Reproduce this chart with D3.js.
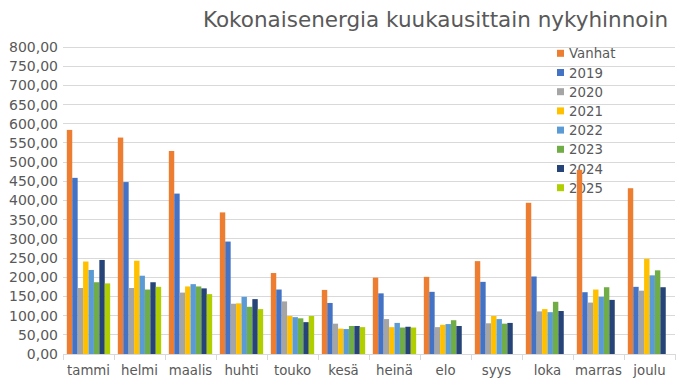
<!DOCTYPE html>
<html><head><meta charset="utf-8">
<script src="https://cdn.jsdelivr.net/npm/d3@7"></script>
<style>
html,body{margin:0;padding:0;background:#fff;}
svg{display:block;font-family:"DejaVu Sans",sans-serif;}
</style></head>
<body>
<svg id="chart" width="683" height="381"></svg>
<script>
const categories = ["tammi","helmi","maalis","huhti","touko","kesä","heinä","elo","syys","loka","marras","joulu"];
const seriesNames = ["Vanhat","2019","2020","2021","2022","2023","2024","2025"];
const vanhat = [584, 564, 529, 369, 211, 167, 199, 201, 242, 394, 480, 432];
const y2019 = [459, 448, 418, 293, 168, 133, 158, 162, 188, 202, 161, 175];
const y2020 = [172, 172, 160, 131, 137, 79, 91, 70, 80, 111, 134, 165];
const y2021 = [241, 243, 176, 132, 99, 66, 70, 76, 99, 117, 168, 248];
const y2022 = [219, 204, 182, 149, 96, 65, 81, 78, 91, 109, 149, 205];
const y2023 = [187, 168, 176, 123, 93, 73, 69, 88, 79, 136, 174, 218];
const y2024 = [245, 187, 171, 143, 83, 73, 71, 73, 81, 112, 141, 174];
const y2025 = [184, 175, 156, 117, 99, 70, 69, null, null, null, null, null];
const yTicks = [0,50,100,150,200,250,300,350,400,450,500,550,600,650,700,750,800];
const colors = ["#ED7D31","#4472C4","#A5A5A5","#FFC000","#5B9BD5","#70AD47","#264478","#B0CE00"];
const title = "Kokonaisenergia kuukausittain nykyhinnoin";

const allSeries = [vanhat,y2019,y2020,y2021,y2022,y2023,y2024,y2025];
const svg = d3.select("#chart");
const textColor = "#595959";
const gridColor = "#d9d9d9";

const x0 = d3.scaleBand().domain(categories).range([63,675]).paddingInner(0.15).paddingOuter(0.075);
const x1 = d3.scaleBand().domain(seriesNames).range([0, x0.bandwidth()]);
const y = d3.scaleLinear().domain([0,800]).range([354,47]);
const fmt = v => d3.format(".2f")(v).replace(".", ",");

// gridlines
svg.append("g").selectAll("line").data(yTicks.filter(t=>t>0)).join("line")
  .attr("x1",63).attr("x2",675).attr("y1",d=>y(d)).attr("y2",d=>y(d))
  .attr("stroke",gridColor).attr("stroke-width",1).attr("shape-rendering","crispEdges");

// y axis labels
const yAxis = d3.axisLeft(y).tickValues(yTicks).tickFormat(fmt).tickSize(0).tickPadding(5);
const gy = svg.append("g").attr("transform","translate(63,0)").call(yAxis);
gy.select(".domain").remove();
gy.selectAll("text").attr("fill",textColor).style("font-size","14px").style("font-family","DejaVu Sans");

// x axis
const step = x0.step();
const xAxis = d3.axisBottom(x0).tickSize(0).tickPadding(12);
const gx = svg.append("g").attr("transform","translate(0,354)").call(xAxis);
gx.select(".domain").attr("stroke",gridColor).attr("d","M63,0.5H675");
gx.selectAll("text").attr("fill",textColor).style("font-size","13.3px").style("font-family","DejaVu Sans");
const bounds = categories.map(c => x0(c) - x0.paddingOuter()*step).concat([675]);
gx.append("g").selectAll("line").data(bounds).join("line")
  .attr("x1",d=>Math.round(d)+0.5).attr("x2",d=>Math.round(d)+0.5).attr("y1",0).attr("y2",6)
  .attr("stroke",gridColor);

// legend (drawn under bars)
const leg = svg.append("g");
seriesNames.forEach((s,i)=>{
  const cy = 53.3 + i*19.2;
  leg.append("rect").attr("x",557).attr("y",cy-3.5).attr("width",7).attr("height",7).attr("fill",colors[i]);
  leg.append("text").attr("x",569).attr("y",cy+5).text(s).attr("fill",textColor).style("font-size","13.3px");
});

// bars
const gb = svg.append("g");
allSeries.forEach((vals,si)=>{
  gb.append("g").selectAll("rect")
    .data(vals.map((v,i)=>({c:categories[i],v})).filter(d=>d.v!=null))
    .join("rect")
    .attr("x",d=>x0(d.c)+x1(seriesNames[si]))
    .attr("width",x1.bandwidth())
    .attr("y",d=>y(d.v))
    .attr("height",d=>y(0)-y(d.v))
    .attr("fill",colors[si]);
});

// title
svg.append("text").attr("x",435.5).attr("y",27).attr("text-anchor","middle")
  .attr("fill",textColor).style("font-size","21.5px").text(title);
</script>
</body></html>
